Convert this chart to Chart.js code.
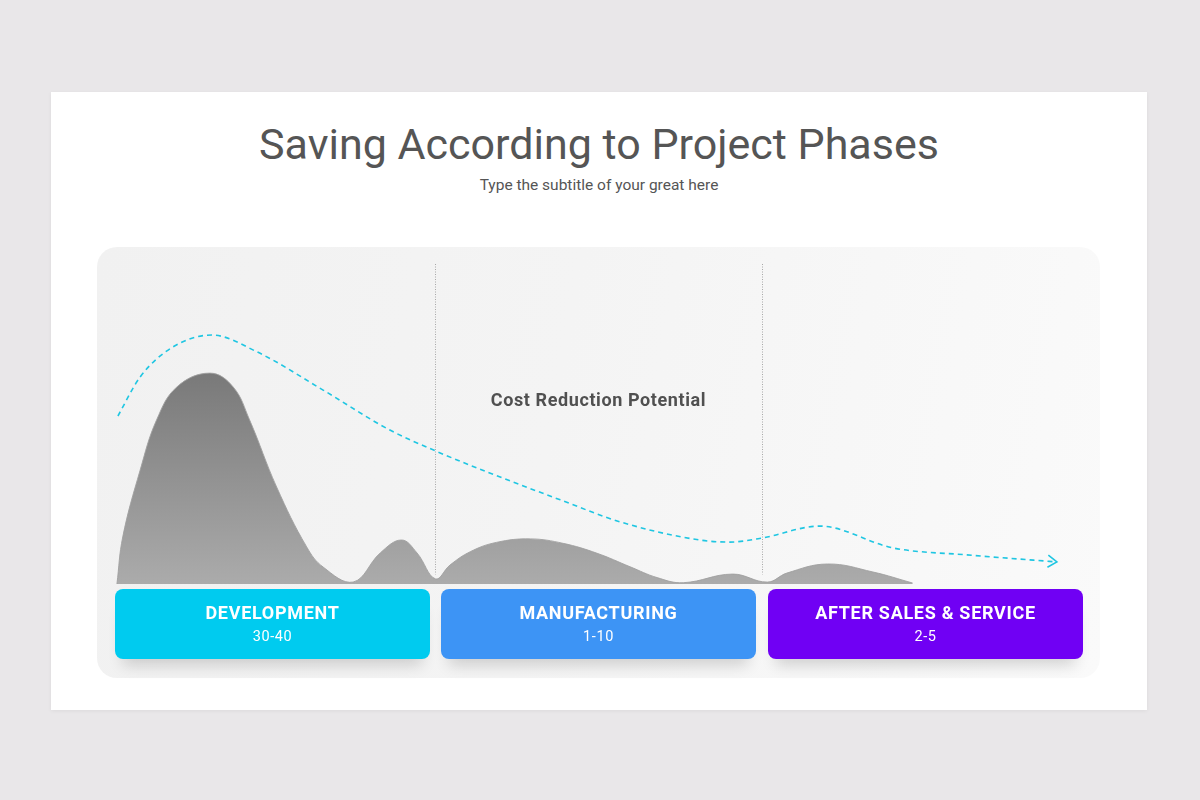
<!DOCTYPE html>
<html>
<head>
<meta charset="utf-8">
<script src="https://cdn.jsdelivr.net/npm/chart.js@4"></script>
<style>
  html,body{margin:0;padding:0;}
  body{width:1200px;height:800px;background:#e9e7e9;position:relative;overflow:hidden;font-family:Roboto,"Noto Sans",sans-serif;}
  #card{position:absolute;left:51px;top:92px;width:1096px;height:618px;background:#fff;box-shadow:0 1px 4px rgba(0,0,0,0.06);}
  #title{position:absolute;left:0;top:119px;width:1198px;text-align:center;font-size:43px;color:#555;font-weight:400;}
  #subtitle{position:absolute;left:0;top:176px;width:1198px;text-align:center;font-size:15.5px;color:#555;}
  #panel{position:absolute;left:97px;top:247px;width:1003px;height:431px;border-radius:20px;background:linear-gradient(100deg,#f1f1f1 0%,#f4f4f4 45%,#fafafa 100%);}
  #chartwrap{position:absolute;left:97px;top:247px;width:1003px;height:345px;}
  #crp{position:absolute;left:0;top:389px;width:1197px;text-align:center;font-size:18px;font-weight:700;color:#505050;letter-spacing:0.6px;}
  .box{position:absolute;top:589px;height:70px;width:315px;border-radius:8px;color:#fff;text-align:center;box-shadow:0 14px 14px -8px rgba(0,0,0,0.16);}
  .box .n{position:absolute;left:0;top:13px;width:100%;font-size:18px;font-weight:700;letter-spacing:0.7px;}
  .box .r{position:absolute;left:0;top:39px;width:100%;font-size:14.5px;letter-spacing:0.6px;}
</style>
</head>
<body>
<div id="card"></div>
<div id="title">Saving According to Project Phases</div>
<div id="subtitle">Type the subtitle of your great here</div>
<div id="panel"></div>
<div id="chartwrap"><canvas id="c"></canvas></div>
<div id="crp">Cost Reduction Potential</div>
<div id="boxes"></div>
<script>
// ---- data ----
const areaX = [0.2, 0.8, 2.6, 4.3, 6.4, 9.8, 12.2, 13.9, 16.7, 19.8, 21.5, 24.6, 27.4, 29.6, 31.2, 33.1, 34.6, 36.7, 39.4, 42.9, 46.3, 49.8, 53.2, 56.0, 58.7, 63.8, 67.4, 69.4, 73.6, 78.3, 82.4];
const areaY = [0, 14.7, 35.6, 51.3, 61.6, 65.9, 61.6, 51.3, 30.3, 11.6, 5.3, 0.6, 9.7, 13.75, 9.7, 1.6, 5.9, 10.1, 13.0, 14.1, 12.7, 9.6, 5.4, 2.0, 0.4, 3.1, 0.6, 3.4, 6.25, 3.75, 0.3];
const trendX = [0.3, 2.6, 6.0, 10.0, 14.7, 21.5, 28.4, 33.1, 38.7, 46.0, 52.2, 60.4, 63.5, 66.9, 72.8, 80.4, 88.0, 97.3];
const trendY = [52.5, 64.7, 74.1, 77.8, 72.5, 60.6, 48.1, 41.6, 34.7, 26.3, 19.4, 13.75, 13.1, 14.4, 18.1, 11.25, 9.1, 6.9];
const phaseBoundaries = [33.1, 66.8];
const phases = ["DEVELOPMENT", "MANUFACTURING", "AFTER SALES & SERVICE"];
const phaseRanges = ["30-40", "1-10", "2-5"];
const phaseColors = ["#00cbef", "#3d94f5", "#7000f4"];
const phaseLeft = [115, 441, 768];

// ---- boxes ----
const boxes = document.getElementById('boxes');
phases.forEach((p, i) => {
  const d = document.createElement('div');
  d.className = 'box';
  d.style.left = phaseLeft[i] + 'px';
  d.style.background = phaseColors[i];
  d.innerHTML = '<div class="n"></div><div class="r"></div>';
  d.querySelector('.n').textContent = p;
  d.querySelector('.r').textContent = phaseRanges[i];
  boxes.appendChild(d);
});

const toPts = (xs, ys) => xs.map((x, i) => ({x: x, y: ys[i]}));

const decor = {
  id: 'decor',
  beforeDatasetsDraw(chart) {
    const {ctx, chartArea, scales} = chart;
    ctx.save();
    ctx.strokeStyle = '#a8a8a8';
    ctx.lineWidth = 1;
    ctx.setLineDash([1, 1.5]);
    phaseBoundaries.forEach(b => {
      const x = Math.round(scales.x.getPixelForValue(b)) + 0.5;
      ctx.beginPath();
      ctx.moveTo(x, chartArea.top);
      ctx.lineTo(x, scales.y.getPixelForValue(3));
      ctx.stroke();
    });
    ctx.restore();
  },
  afterDatasetsDraw(chart) {
    const {ctx} = chart;
    const meta = chart.getDatasetMeta(1);
    const pts = meta.data;
    const p1 = pts[pts.length - 1], p0 = pts[pts.length - 2];
    const ang = Math.atan2(p1.y - p0.y, p1.x - p0.x);
    ctx.save();
    ctx.translate(p1.x, p1.y);
    ctx.rotate(ang);
    ctx.strokeStyle = '#1fc6e2';
    ctx.lineWidth = 1.6;
    ctx.beginPath();
    ctx.moveTo(-9, -6);
    ctx.lineTo(0, 0);
    ctx.lineTo(-9, 6);
    ctx.stroke();
    ctx.restore();
  }
};

new Chart(document.getElementById('c'), {
  type: 'line',
  data: {
    datasets: [
      {
        data: toPts(areaX, areaY),
        fill: 'origin',
        borderColor: 'rgba(160,160,160,0.9)',
        borderWidth: 1,
        pointRadius: 0,
        tension: 0.4,
        backgroundColor: (ctx) => {
          const ca = ctx.chart.chartArea;
          if (!ca) return '#999';
          const g = ctx.chart.ctx.createLinearGradient(0, ca.top + 100, 0, ca.bottom);
          g.addColorStop(0, '#777777');
          g.addColorStop(1, '#ababab');
          return g;
        }
      },
      {
        data: toPts(trendX, trendY),
        fill: false,
        borderColor: '#1fc6e2',
        borderWidth: 1.6,
        borderDash: [5, 4],
        pointRadius: 0,
        tension: 0.4,
        cubicInterpolationMode: 'monotone'
      }
    ]
  },
  options: {
    responsive: true,
    maintainAspectRatio: false,
    animation: false,
    layout: {padding: {left: 18, right: 17, top: 17, bottom: 8}},
    plugins: {legend: {display: false}, tooltip: {enabled: false}},
    scales: {
      x: {type: 'linear', min: 0, max: 100, display: false},
      y: {min: 0, max: 100, display: false}
    }
  },
  plugins: [decor]
});
</script>
</body>
</html>
